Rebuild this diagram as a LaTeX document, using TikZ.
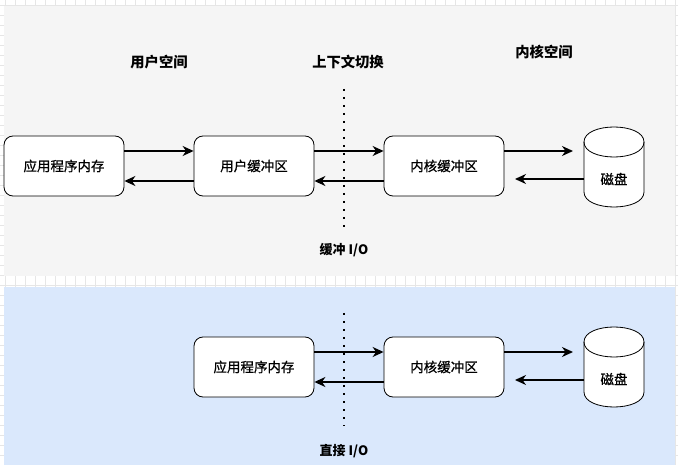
\documentclass[tikz,border=0pt]{standalone}
\usepackage{fontspec}
\setmainfont{Noto Sans CJK SC}
\newfontfamily\boxfont[FakeBold=0.8]{Noto Sans CJK SC}
\usetikzlibrary{arrows.meta}
\definecolor{panelgray}{HTML}{F5F5F5}
\definecolor{panelblue}{HTML}{DAE8FC}
\definecolor{gridc}{HTML}{E6E6E6}
\begin{document}
\begin{tikzpicture}[x=1pt,y=-1pt,
 box/.style={draw=black, line width=0.8pt, fill=white, rounded corners=9pt, minimum width=120pt, minimum height=60pt, inner sep=0pt, font=\boxfont\fontsize{13.5}{16}\selectfont},
 head/.style={font=\bfseries\fontsize{14.3}{16}\selectfont, inner sep=0pt},
 foot/.style={font=\bfseries\fontsize{13}{15}\selectfont, inner sep=0pt},
 arr/.style={line width=1.6pt, -{Stealth[length=11pt,width=10pt,inset=3.5pt]}},
 sep/.style={line width=2pt, dash pattern=on 2pt off 6pt},
 diskbox/.style={minimum width=60pt, minimum height=80pt, inner sep=0pt},
 disklabel/.style={font=\boxfont\fontsize{13.5}{16}\selectfont, inner sep=0pt},
 cyl/.style={draw=black, line width=0.8pt, fill=white}]
\useasboundingbox (0,0) rectangle (678,465);
\fill[white] (0,0) rectangle (678,465);
\foreach \gx in {5,15,...,675} \draw[gridc, line width=0.6pt] (\gx,0) -- (\gx,465);
\foreach \gy in {5,15,...,465} \draw[gridc, line width=0.6pt] (0,\gy) -- (678,\gy);
% panels
\fill[panelgray] (4,6) rectangle (675,276);
\fill[panelblue] (4,287) rectangle (675,465);

% ---------- top panel: buffered I/O ----------
\node[head] (h1) at (159,62) {用户空间};
\node[head] (h2) at (348,62) {上下文切换};
\node[head] (h3) at (544,52) {内核空间};
\node[foot] (f1) at (344,250) {缓冲 I/O};

\coordinate (s1a) at (344,89);
\coordinate (s1b) at (344,228);
\draw[sep] (s1a) -- (s1b);

\node[box] (app1) at (64,166) {应用程序内存};
\node[box] (ub1) at (254,166) {用户缓冲区};
\node[box] (kb1) at (444,166) {内核缓冲区};
\node[diskbox] (disk1) at (614,167) {};
\draw[cyl] (584,142) .. controls (584,122) and (644,122) .. (644,142) -- (644,192)
  .. controls (644,212) and (584,212) .. (584,192) -- cycle;
\draw[cyl, fill=none] (584,142) .. controls (584,162) and (644,162) .. (644,142);
\node[disklabel] (disk1t) at (614,179) {磁盘};

\draw[arr] ([yshift=15pt]app1.east) -- ([yshift=15pt]ub1.west);
\draw[arr] ([yshift=-15pt]ub1.west) -- ([yshift=-15pt]app1.east);
\draw[arr] ([yshift=15pt]ub1.east) -- ([yshift=15pt]kb1.west);
\draw[arr] ([yshift=-15pt]kb1.west) -- ([yshift=-15pt]ub1.east);
\coordinate (d1in) at (573,151);
\coordinate (d1out) at (515,179);
\draw[arr] (kb1.east |- d1in) -- (d1in);
\draw[arr] (disk1.west |- d1out) -- (d1out);

% ---------- bottom panel: direct I/O ----------
\node[foot] (f2) at (344,451) {直接 I/O};

\coordinate (s2a) at (344,313);
\coordinate (s2b) at (344,426);
\draw[sep] (s2a) -- (s2b);

\node[box] (app2) at (254,367) {应用程序内存};
\node[box] (kb2) at (444,367) {内核缓冲区};
\node[diskbox] (disk2) at (614,367) {};
\draw[cyl] (584,342) .. controls (584,322) and (644,322) .. (644,342) -- (644,392)
  .. controls (644,412) and (584,412) .. (584,392) -- cycle;
\draw[cyl, fill=none] (584,342) .. controls (584,362) and (644,362) .. (644,342);
\node[disklabel] (disk2t) at (614,379) {磁盘};

\draw[arr] ([yshift=15pt]app2.east) -- ([yshift=15pt]kb2.west);
\draw[arr] ([yshift=-15pt]kb2.west) -- ([yshift=-15pt]app2.east);
\coordinate (d2in) at (573,352);
\coordinate (d2out) at (515,380);
\draw[arr] (kb2.east |- d2in) -- (d2in);
\draw[arr] (disk2.west |- d2out) -- (d2out);
\end{tikzpicture}
\end{document}
